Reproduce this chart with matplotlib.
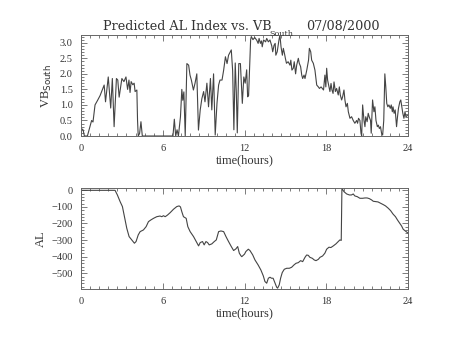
import matplotlib
matplotlib.use("Agg")
import matplotlib.pyplot as plt
from matplotlib.ticker import MultipleLocator

# VB south (hours, value)
vb_t = [0.0, 0.15, 0.25, 0.47, 0.78, 0.88, 1.03, 1.22, 1.4, 1.6, 1.7, 1.8, 2.0, 2.18, 2.3, 2.43,
        2.6, 2.7, 2.8, 3.0, 3.15, 3.3, 3.42, 3.52, 3.6, 3.68, 3.8, 3.9, 3.97, 4.1, 4.15, 4.2,
        4.3, 4.4, 4.5, 6.75, 6.85, 6.95, 7.05, 7.15, 7.3, 7.4, 7.47, 7.55, 7.65, 7.77, 7.9, 8.0,
        8.1, 8.25, 8.37, 8.5, 8.62, 8.75, 8.87, 9.0, 9.1, 9.24, 9.36, 9.5, 9.6, 9.73, 9.85, 9.98,
        10.1, 10.2, 10.35, 10.47, 10.6, 10.72, 10.83, 10.95, 11.03, 11.13, 11.22, 11.32, 11.4,
        11.47, 11.58, 11.7, 11.84, 11.95, 12.05, 12.16, 12.23, 12.3, 12.45, 12.5, 12.62, 12.75,
        12.9, 13.0, 13.07, 13.17, 13.25, 13.3, 13.4, 13.55, 13.63, 13.75, 13.87, 14.0, 14.07,
        14.17, 14.25, 14.3, 14.4, 14.53, 14.6, 14.68, 14.78, 14.85, 14.93, 15.0, 15.08, 15.2,
        15.34, 15.4, 15.48, 15.58, 15.65, 15.75, 15.83, 15.95, 16.02, 16.12, 16.2, 16.27, 16.37,
        16.44, 16.57, 16.7, 16.76, 16.86, 16.93, 17.05, 17.17, 17.3, 17.42, 17.5, 17.62, 17.8,
        17.9, 17.97, 18.03, 18.1, 18.2, 18.27, 18.35, 18.42, 18.5, 18.57, 18.67, 18.76, 18.88,
        18.96, 19.03, 19.13, 19.2, 19.3, 19.37, 19.45, 19.55, 19.62, 19.74, 19.86, 19.98, 20.1,
        20.23, 20.3, 20.37, 20.47, 20.55, 20.6, 20.67, 20.77, 20.84, 20.9, 21.0, 21.08, 21.15,
        21.25, 21.3, 21.4, 21.5, 21.57, 21.65, 21.75, 21.82, 21.9, 21.98, 22.06, 22.14, 22.22,
        22.3, 22.37, 22.44, 22.52, 22.6, 22.7, 22.77, 22.85, 22.9, 22.98, 23.06, 23.16, 23.23,
        23.3, 23.4, 23.47, 23.55, 23.62, 23.7, 23.78, 23.85, 23.95]
vb_v = [0.25, 0.2, 0.0, 0.0, 0.5, 0.45, 1.0, 1.15, 1.3, 1.53, 1.64, 1.1, 1.9, 0.9, 1.85, 0.3,
        1.85, 1.8, 1.25, 1.85, 1.75, 1.9, 1.5, 1.8, 1.4, 1.75, 1.65, 1.7, 1.43, 1.48, 0.5, 0.0,
        0.08, 0.46, 0.0, 0.0, 0.54, 0.0, 0.2, 0.0, 0.62, 1.5, 1.15, 1.42, 0.0, 2.33, 2.28, 1.96,
        1.8, 1.48, 1.7, 2.0, 0.19, 0.84, 1.2, 1.43, 1.1, 1.7, 0.94, 1.85, 0.84, 2.0, 0.03, 1.05,
        1.64, 1.8, 1.8, 2.12, 2.55, 2.33, 2.6, 2.7, 2.77, 2.1, 0.2, 2.35, 1.4,
        0.1, 2.33, 2.33, 1.05, 1.9, 1.7, 2.13, 1.26, 1.3, 3.1, 3.2, 3.1, 3.17,
        3.08, 2.98, 3.14, 2.98, 3.06, 2.87, 3.09, 3.03, 3.14, 3.03, 3.09, 2.9, 2.71,
        2.92, 2.98, 2.6, 2.71, 3.09, 3.25, 2.87, 2.6, 2.82, 2.66, 2.5, 2.34, 2.39,
        2.28, 2.44, 2.12, 2.18, 2.39, 2.0, 2.28, 2.5, 2.34, 2.23, 1.96, 1.85, 1.96,
        1.85, 2.12, 2.44, 2.82, 2.71, 2.44, 2.34, 2.12, 1.64, 1.58, 1.53, 1.58, 1.48,
        1.96, 1.58, 2.18, 1.8, 1.58, 1.43, 1.69, 1.48, 1.37, 1.74, 1.43, 1.53, 1.32,
        1.58, 1.32, 1.16, 1.26, 1.48, 1.16, 0.94, 1.05, 0.78, 0.57, 0.62, 0.5, 0.41,
        0.5, 0.41, 0.57, 0.5, 0.09, 0.0, 1.0, 0.5, 0.3, 0.62, 0.46, 0.73, 0.62,
        0.5, 0.09, 1.16, 0.78, 0.94, 0.5, 0.3, 0.35, 0.24, 0.3, 0.09, 0.03, 0.5,
        2.0, 1.58, 1.05, 0.94, 1.0, 0.89, 1.0, 0.78, 0.94, 0.73, 0.84, 0.3, 0.62,
        0.89, 1.1, 1.16, 0.94, 0.73, 0.57, 0.78, 0.62, 0.66]

# predicted AL index (hours, nT)
al_t = [0.0, 2.5, 2.67, 2.87, 3.04, 3.19, 3.36, 3.53, 3.73, 3.92, 4.04, 4.2, 4.34, 4.58, 4.78,
        4.95, 5.12, 5.32, 5.56, 5.8, 5.93, 6.05, 6.18, 6.35, 6.54, 6.79, 7.03, 7.2, 7.3, 7.4,
        7.52, 7.72, 7.84, 8.01, 8.26, 8.46, 8.63, 8.75, 8.92, 9.04, 9.17, 9.29, 9.41, 9.6, 9.78,
        9.93, 10.1, 10.27, 10.47, 10.64, 10.83, 11.03, 11.2, 11.37, 11.5, 11.62, 11.74, 11.8,
        12.0, 12.1, 12.28, 12.4, 12.6, 12.77, 13.0, 13.2, 13.38, 13.5, 13.63, 13.75, 13.87,
        13.98, 14.1, 14.24, 14.36, 14.43, 14.55, 14.65, 14.77, 14.92, 15.1, 15.29, 15.46, 15.63,
        15.78, 15.95, 16.12, 16.27, 16.44, 16.56, 16.68, 16.8, 16.98, 17.12, 17.25, 17.42,
        17.54, 17.73, 17.9, 18.03, 18.2, 18.34, 18.52, 18.71, 18.88, 19.0, 19.1, 19.15, 19.3,
        19.5, 19.7, 19.85, 19.98, 20.1, 20.27, 20.47, 20.67, 20.84, 21.0, 21.16, 21.33, 21.45,
        21.62, 21.8, 21.99, 22.18, 22.35, 22.55, 22.72, 22.9, 23.08, 23.23, 23.4, 23.53, 23.65,
        23.77, 23.87, 24.0]
al_v = [0, 0, -28, -68, -98, -159, -229, -279, -299, -319, -309, -269, -249, -239, -219,
        -189, -179, -169, -159, -155, -159, -153, -159, -149, -135, -114, -98, -94, -100, -129,
        -159, -169, -219, -249, -279, -309, -335, -315, -309, -329, -309, -315, -329, -323, -309,
        -299, -249, -245, -249, -279, -309, -339, -363, -353, -339, -379, -395, -400,
        -385, -369, -355, -363, -389, -420, -450, -480, -516, -550, -560, -530, -524,
        -530, -530, -560, -584, -590, -570, -530, -496, -476, -470, -470, -464, -450,
        -440, -436, -424, -430, -404, -390, -392, -404, -410, -420, -424, -416,
        -404, -396, -379, -355, -343, -345, -335, -323, -309, -299, -302, 12, -8,
        -22, -28, -28, -22, -34, -38, -48, -48, -46, -46, -50, -58, -66,
        -68, -70, -78, -86, -94, -108, -122, -143, -159, -179, -199, -215, -235,
        -243, -249, -258]

plt.rcParams['font.family'] = ['Liberation Serif', 'DejaVu Serif']
ink = '#333333'
frame = '#666666'

fig = plt.figure(figsize=(4.54, 3.41), dpi=100)
ax1 = fig.add_axes([81 / 454, 1 - 136 / 341, 327 / 454, 101 / 341])
ax2 = fig.add_axes([81 / 454, 1 - 289 / 341, 327 / 454, 101 / 341])

ax1.plot(vb_t, vb_v, color='#444444', lw=0.8)
ax2.plot(al_t, al_v, color='#444444', lw=0.8)

ax1.set_ylim(0, 3.25)
ax1.yaxis.set_major_locator(MultipleLocator(0.5))
ax1.yaxis.set_minor_locator(MultipleLocator(0.1))
ax1.yaxis.set_major_formatter(lambda v, p: f"{v:.1f}")
ax2.set_ylim(-595, 14)
ax2.yaxis.set_major_locator(MultipleLocator(100))
ax2.yaxis.set_minor_locator(MultipleLocator(20))
ax2.yaxis.set_major_formatter(lambda v, p: f"{int(round(v))}".replace('-', '\u2212'))

for ax in (ax1, ax2):
    ax.set_xlim(0, 24)
    ax.xaxis.set_major_locator(MultipleLocator(6))
    ax.xaxis.set_minor_locator(MultipleLocator(2 / 3))
    ax.tick_params(which='both', direction='in', top=True, right=True,
                   colors=frame, labelcolor=ink, labelsize=7.5, width=0.6)
    ax.tick_params(which='major', length=4.5, pad=6)
    ax.tick_params(which='minor', length=2.2)
    for s in ax.spines.values():
        s.set_color(frame)
        s.set_linewidth(0.7)
    ax.set_xlabel('time(hours)', fontsize=9, color=ink, labelpad=1)

ax1.set_ylabel(r'VB$_{\mathrm{South}}$', fontsize=9, color=ink, labelpad=4)
ax2.set_ylabel('AL', fontsize=9, color=ink, labelpad=3)

# title, with the subscript set by hand
fig.text(103 / 454, 1 - 30 / 341, 'Predicted AL Index vs. VB', fontsize=9.2,
         family='DejaVu Serif', color=ink, ha='left', va='baseline')
fig.text(269 / 454, 1 - 36 / 341, 'South', fontsize=5.8,
         family='DejaVu Serif', color=ink, ha='left', va='baseline')
fig.text(306 / 454, 1 - 30 / 341, '07/08/2000', fontsize=9.2,
         family='DejaVu Serif', color=ink, ha='left', va='baseline')

fig.savefig('out.png', dpi=100)
